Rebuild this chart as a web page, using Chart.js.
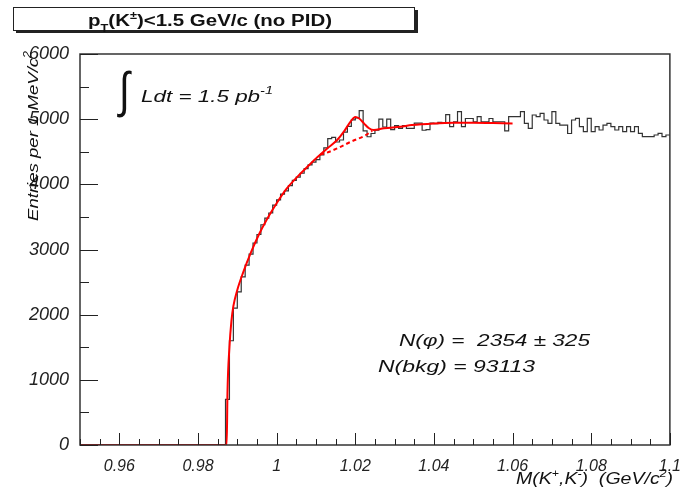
<!DOCTYPE html>
<html>
<head>
<meta charset="utf-8">
<script src="https://cdn.jsdelivr.net/npm/chart.js@4.4.0/dist/chart.umd.min.js"></script>
<style>
html,body{margin:0;padding:0;background:#fff;}
#wrap{width:685px;height:488px;}
</style>
</head>
<body>
<div id="wrap"><canvas id="c" width="685" height="488"></canvas></div>
<script>
// K+K- invariant mass, entries per 1 MeV bin, first bin starts at 0.950 GeV
const binStart = 0.950;
const binWidth = 0.001;
const counts = [
  0,0,0,0,0,0,0,0,0,0, 0,0,0,0,0,0,0,0,0,0, 0,0,0,0,0,0,0,0,0,0, 0,0,0,0,0,0,0,
  700,1600,2100,2350,2580,2760,2930,3100,3230,3380,3480,3560,3680,
  3760,3850,3900,3980,4060,4110,4170,4240,4300,4340,
  4380,4450,4560,4700,4720,4650,4680,4800,4890,4990,
  5020,5130,4820,4730,4780,4830,5000,4880,5000,4840,
  4900,4860,4900,4860,4860,4940,4940,4830,4840,4940,
  4930,4950,4940,5070,4885,4960,5115,4885,5010,5010,
  4960,5040,4960,4960,5010,4960,4960,4960,4820,5040,
  5040,5040,5115,4936,4860,5064,5040,5090,4987,4936,
  5115,4936,4910,4910,4780,4987,5013,4885,4808,5013,
  4808,4885,4834,4910,4936,4885,4834,4885,4808,4885,
  4808,4885,4783,4731,4731,4731,4757,4783,4731,4757
];

// fit (signal + background)
const fitMass  = [0.950, 0.9873, 0.9875, 0.9880, 0.9885, 0.9890, 0.9900, 0.9915, 0.9935, 0.9955,
                  0.9975, 1.0000, 1.0025, 1.0055, 1.0080, 1.0104, 1.0129, 1.0154, 1.0171, 1.0188,
                  1.0200, 1.0210, 1.0222, 1.0235, 1.0247, 1.0273, 1.0315, 1.0344, 1.040, 1.045,
                  1.050, 1.055, 1.060];
const fitValue = [0, 0, 800, 1500, 1900, 2130, 2380, 2650, 2960, 3230,
                  3460, 3710, 3930, 4130, 4280, 4420, 4553, 4680, 4808, 4962,
                  5035, 5010, 4936, 4860, 4834, 4860, 4885, 4910, 4935, 4945,
                  4945, 4940, 4935];

// background only (dashed)
const bkgMass  = [1.0111, 1.0125, 1.0157, 1.0191, 1.0224, 1.0243];
const bkgValue = [4460, 4480, 4560, 4660, 4745, 4820];

const xTicks = [0.96, 0.98, 1.00, 1.02, 1.04, 1.06, 1.08, 1.10];
const yTicks = [0, 1000, 2000, 3000, 4000, 5000, 6000];

const FONT = '"Liberation Sans", Arial, Helvetica, sans-serif';

function drawRich(ctx, segs, o) {
  const base = (o.italic ? 'italic ' : '') + (o.bold ? 'bold ' : '');
  const fontFor = k => base + (k === 'n' ? o.size : Math.round(o.size * 0.65)) + 'px ' + FONT;
  let w = 0;
  for (const [t, k] of segs) { ctx.font = fontFor(k); w += ctx.measureText(t).width; }
  const sx = o.width ? o.width / w : 1;
  ctx.save();
  ctx.translate(o.x, o.y);
  if (o.rotate) ctx.rotate(o.rotate);
  ctx.scale(sx, 1);
  let cx = 0;
  ctx.fillStyle = o.color || '#111';
  ctx.textBaseline = 'alphabetic';
  ctx.textAlign = 'left';
  for (const [t, k] of segs) {
    ctx.font = fontFor(k);
    const dy = k === 'sup' ? -o.size * 0.45 : (k === 'sub' ? o.size * 0.35 : 0);
    ctx.fillText(t, cx, dy);
    cx += ctx.measureText(t).width;
  }
  ctx.restore();
}

function drawIntegral(ctx, x0, y0, x1, y1) {
  ctx.save();
  ctx.font = '60px ' + FONT;
  const m = ctx.measureText('\u222B');
  const gw = m.actualBoundingBoxLeft + m.actualBoundingBoxRight;
  const gh = m.actualBoundingBoxAscent + m.actualBoundingBoxDescent;
  ctx.translate(x0, y0);
  ctx.scale((x1 - x0) / gw, (y1 - y0) / gh);
  ctx.fillStyle = '#111';
  ctx.textAlign = 'left';
  ctx.textBaseline = 'alphabetic';
  ctx.fillText('\u222B', m.actualBoundingBoxLeft, m.actualBoundingBoxAscent);
  ctx.restore();
}

const rootStyle = {
  id: 'rootStyle',
  afterDraw(chart) {
    const ctx = chart.ctx;
    const a = chart.chartArea;
    const xs = chart.scales.x, ys = chart.scales.y;

    // frame
    ctx.save();
    ctx.strokeStyle = '#333';
    ctx.lineWidth = 1.5;
    ctx.strokeRect(a.left, a.top, a.right - a.left, a.bottom - a.top);

    // inner tick marks
    ctx.lineWidth = 1;
    ctx.strokeStyle = '#222';
    ctx.beginPath();
    for (let i = 0; i <= 30; i++) {
      const px = Math.round(xs.getPixelForValue(0.95 + i * 0.005)) + 0.5;
      const len = (i % 4 === 2) ? 12 : 6;
      ctx.moveTo(px, a.bottom);
      ctx.lineTo(px, a.bottom - len);
    }
    for (let i = 0; i <= 12; i++) {
      const py = Math.round(ys.getPixelForValue(i * 500)) + 0.5;
      const len = (i % 2 === 0) ? 18 : 9;
      ctx.moveTo(a.left, py);
      ctx.lineTo(a.left + len, py);
    }
    ctx.stroke();

    // title box with shadow
    ctx.fillStyle = '#222';
    ctx.fillRect(16, 10, 402, 23);
    ctx.fillStyle = '#fff';
    ctx.fillRect(13, 7, 401, 23);
    ctx.strokeStyle = '#222';
    ctx.lineWidth = 1;
    ctx.strokeRect(13.5, 7.5, 401, 23);
    ctx.restore();

    drawRich(ctx, [['p', 'n'], ['T', 'sub'], ['(K', 'n'], ['\u00B1', 'sup'], [')<1.5 GeV/c (no PID)', 'n']],
      { x: 88, y: 26, size: 16, bold: true, width: 244 });

    // axis titles
    drawRich(ctx, [['M(K', 'n'], ['+', 'sup'], [',K', 'n'], ['-', 'sup'], [')  (GeV/c', 'n'], ['2', 'sup'], [')', 'n']],
      { x: 516, y: 484, size: 16, italic: true, width: 157 });
    drawRich(ctx, [['Entries per 1 MeV/c', 'n'], ['2', 'sup']],
      { x: 38, y: 221, size: 15, italic: true, width: 170, rotate: -Math.PI / 2 });

    // annotations
    drawIntegral(ctx, 117, 70, 132, 118);
    drawRich(ctx, [['Ldt = 1.5 pb', 'n'], ['-1', 'sup']],
      { x: 141, y: 102, size: 17, italic: true, width: 132 });
    drawRich(ctx, [['N(\u03C6) =  2354 \u00B1 325', 'n']],
      { x: 399, y: 346, size: 17, italic: true, width: 191 });
    drawRich(ctx, [['N(bkg) = 93113', 'n']],
      { x: 378, y: 372, size: 17, italic: true, width: 157 });
  }
};

const histPoints = counts.map((c, i) => ({ x: binStart + i * binWidth, y: c }));
histPoints.push({ x: binStart + counts.length * binWidth, y: counts[counts.length - 1] });

new Chart(document.getElementById('c'), {
  type: 'line',
  data: {
    datasets: [
      {
        data: histPoints,
        stepped: true,
        borderColor: '#333',
        borderWidth: 1.2,
        pointRadius: 0,
        order: 3
      },
      {
        data: fitMass.map((m, i) => ({ x: m, y: fitValue[i] })),
        borderColor: '#ff0000',
        borderWidth: 2,
        pointRadius: 0,
        cubicInterpolationMode: 'monotone',
        order: 1
      },
      {
        data: bkgMass.map((m, i) => ({ x: m, y: bkgValue[i] })),
        borderColor: '#ff0000',
        borderWidth: 2,
        borderDash: [4, 3],
        pointRadius: 0,
        cubicInterpolationMode: 'monotone',
        order: 2
      }
    ]
  },
  options: {
    responsive: false,
    devicePixelRatio: 1,
    animation: false,
    layout: { padding: { top: 54, right: 13, left: 0, bottom: 0 } },
    plugins: { legend: { display: false }, tooltip: { enabled: false } },
    scales: {
      x: {
        type: 'linear',
        min: 0.95,
        max: 1.1,
        grid: { display: false },
        border: { display: false },
        afterBuildTicks: s => { s.ticks = xTicks.map(v => ({ value: v })); },
        afterFit: s => { s.height = 43; },
        ticks: {
          autoSkip: false,
          maxRotation: 0,
          padding: 4,
          color: '#222',
          font: { family: FONT, style: 'italic', size: 16 },
          callback: v => String(+v.toFixed(2))
        }
      },
      y: {
        min: 0,
        max: 6000,
        grid: { display: false },
        border: { display: false },
        afterBuildTicks: s => { s.ticks = yTicks.map(v => ({ value: v })); },
        afterFit: s => { s.width = 80; },
        ticks: {
          padding: 3,
          color: '#222',
          font: { family: FONT, style: 'italic', size: 18 },
          callback: v => String(v)
        }
      }
    }
  },
  plugins: [rootStyle]
});
</script>
</body>
</html>
